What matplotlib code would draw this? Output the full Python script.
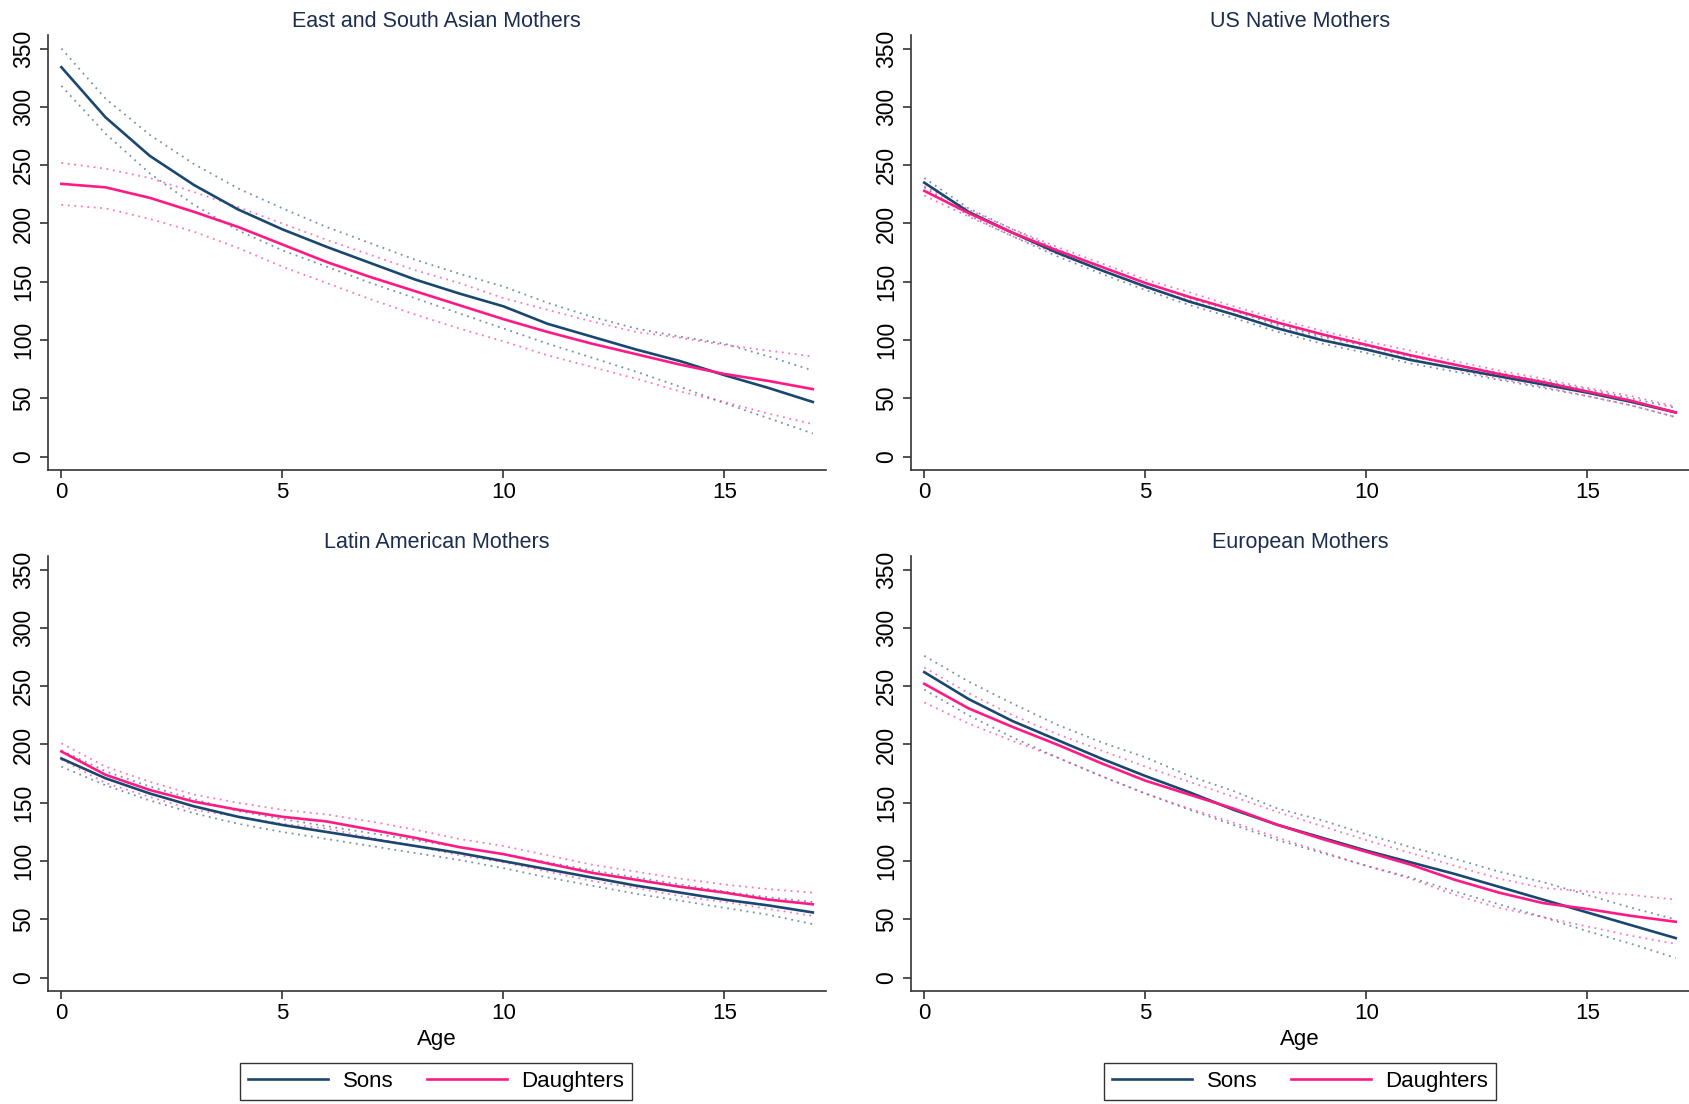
import matplotlib
matplotlib.use("Agg")
import matplotlib.pyplot as plt
from matplotlib.lines import Line2D
import numpy as np

plt.rcParams['font.family'] = ['Liberation Sans', 'DejaVu Sans']

ages = list(range(18))
titles = ["East and South Asian Mothers", "US Native Mothers",
          "Latin American Mothers", "European Mothers"]

# East and South Asian
asia_sons = [334, 291, 258, 233, 212, 195, 180, 166, 152, 140, 129, 114, 103, 92, 82, 70, 59, 47]
asia_sons_hi = [350, 307, 276, 251, 230, 213, 197, 183, 169, 157, 146, 132, 120, 110, 103, 97, 86, 74]
asia_sons_lo = [318, 277, 243, 216, 194, 177, 163, 149, 136, 123, 110, 97, 85, 73, 60, 46, 33, 20]
asia_dau = [234, 231, 222, 210, 197, 182, 167, 154, 142, 130, 118, 107, 97, 88, 79, 71, 65, 58]
asia_dau_hi = [252, 247, 239, 227, 214, 200, 186, 173, 160, 149, 136, 126, 116, 107, 102, 96, 91, 86]
asia_dau_lo = [216, 213, 204, 193, 179, 163, 149, 135, 122, 110, 99, 87, 77, 67, 56, 47, 37, 28]

# US Native
us_sons = [235, 210, 192, 175, 160, 146, 133, 122, 110, 100, 92, 83, 76, 69, 62, 55, 47, 38]
us_sons_hi = [239, 213, 195, 178, 163, 149, 136, 125, 113, 103, 95, 86, 79, 72, 65, 58, 50, 42]
us_sons_lo = [231, 207, 189, 172, 157, 143, 130, 119, 107, 97, 89, 80, 73, 66, 59, 52, 44, 34]
us_dau = [228, 209, 192, 177, 163, 149, 137, 126, 115, 105, 96, 87, 79, 71, 64, 56, 48, 38]
us_dau_hi = [232, 212, 195, 180, 166, 152, 141, 129, 118, 108, 99, 91, 82, 74, 67, 59, 52, 43]
us_dau_lo = [224, 206, 189, 174, 160, 145, 134, 122, 111, 101, 92, 84, 75, 67, 60, 52, 44, 34]

# Latin American
latin_sons = [188, 171, 158, 147, 138, 131, 125, 119, 113, 107, 100, 93, 86, 79, 73, 67, 62, 56]
latin_sons_hi = [195, 177, 164, 153, 143, 136, 130, 124, 118, 112, 106, 99, 92, 86, 80, 74, 69, 65]
latin_sons_lo = [181, 165, 152, 141, 132, 125, 119, 113, 107, 101, 94, 86, 79, 72, 66, 60, 54, 46]
latin_dau = [194, 174, 161, 151, 144, 138, 134, 127, 120, 112, 106, 98, 90, 84, 78, 73, 67, 63]
latin_dau_hi = [201, 181, 168, 157, 150, 144, 140, 134, 127, 119, 113, 105, 97, 91, 85, 80, 76, 73]
latin_dau_lo = [187, 167, 155, 144, 138, 132, 128, 120, 113, 105, 99, 91, 83, 77, 70, 65, 59, 53]

# European
euro_sons = [262, 239, 220, 204, 188, 173, 159, 144, 131, 120, 109, 99, 89, 78, 67, 56, 45, 34]
euro_sons_hi = [276, 254, 235, 217, 202, 189, 173, 160, 145, 135, 123, 112, 102, 91, 82, 71, 60, 50]
euro_sons_lo = [247, 225, 206, 189, 173, 158, 144, 131, 118, 107, 96, 86, 74, 63, 52, 40, 29, 17]
euro_dau = [252, 231, 215, 200, 184, 169, 157, 145, 131, 119, 108, 97, 84, 73, 64, 59, 53, 48]
euro_dau_hi = [266, 244, 225, 209, 195, 181, 168, 155, 142, 130, 118, 107, 96, 85, 77, 74, 71, 67]
euro_dau_lo = [236, 218, 203, 189, 173, 158, 145, 133, 120, 108, 96, 85, 71, 60, 52, 44, 36, 29]

panels = [
    (asia_sons, asia_sons_lo, asia_sons_hi, asia_dau, asia_dau_lo, asia_dau_hi),
    (us_sons, us_sons_lo, us_sons_hi, us_dau, us_dau_lo, us_dau_hi),
    (latin_sons, latin_sons_lo, latin_sons_hi, latin_dau, latin_dau_lo, latin_dau_hi),
    (euro_sons, euro_sons_lo, euro_sons_hi, euro_dau, euro_dau_lo, euro_dau_hi),
]

navy = '#1a476f'
pink = '#ff1a85'
title_col = '#1c2d50'
spine_col = '#333333'

fig = plt.figure(figsize=(16.9, 11.04), dpi=100)

positions = [
    [0.0282, 0.5743, 0.4606, 0.394],
    [0.5388, 0.5743, 0.4606, 0.394],
    [0.0282, 0.1024, 0.4606, 0.394],
    [0.5388, 0.1024, 0.4606, 0.394],
]

for i, (pos, title, data) in enumerate(zip(positions, titles, panels)):
    ax = fig.add_axes(pos)
    s, s_lo, s_hi, d, d_lo, d_hi = data
    dot = (0, (1, 2.6))
    ax.plot(ages, s_hi, color=navy, lw=1.3, ls=dot, alpha=0.6)
    ax.plot(ages, s_lo, color=navy, lw=1.3, ls=dot, alpha=0.6)
    ax.plot(ages, d_hi, color=pink, lw=1.3, ls=dot, alpha=0.6)
    ax.plot(ages, d_lo, color=pink, lw=1.3, ls=dot, alpha=0.6)
    ax.plot(ages, s, color=navy, lw=1.9)
    ax.plot(ages, d, color=pink, lw=1.9)

    ax.set_xlim(-0.31, 17.3)
    ax.set_ylim(-11.3, 361.6)
    ax.set_xticks([0, 5, 10, 15])
    ax.set_yticks(range(0, 351, 50))
    ax.tick_params(axis='y', labelrotation=90, length=6, width=1.2,
                   color=spine_col, labelsize=16.5, pad=3)
    ax.tick_params(axis='x', length=6, width=1.2, color=spine_col,
                   labelsize=16, pad=3)
    for lab in ax.get_yticklabels():
        lab.set_va('center')
    for side in ['top', 'right']:
        ax.spines[side].set_visible(False)
    for side in ['left', 'bottom']:
        ax.spines[side].set_color(spine_col)
        ax.spines[side].set_linewidth(1.2)
    ax.set_title(title, fontsize=15.5, color=title_col, pad=6)
    if i >= 2:
        ax.set_xlabel('Age', fontsize=16, labelpad=3)

handles = [Line2D([], [], color=navy, lw=1.9), Line2D([], [], color=pink, lw=1.9)]
for cx in [436 / 1690, 1300 / 1690]:
    leg = fig.legend(handles, ['Sons', 'Daughters'], loc='center',
                     bbox_to_anchor=(cx, 0.0205), ncol=2, frameon=True,
                     fontsize=16, handlelength=3.6, columnspacing=1.5,
                     handletextpad=0.65, borderpad=0.35, fancybox=False)
    leg.get_frame().set_edgecolor('black')
    leg.get_frame().set_linewidth(1.0)

fig.savefig('out.png', dpi=100, facecolor='white')
